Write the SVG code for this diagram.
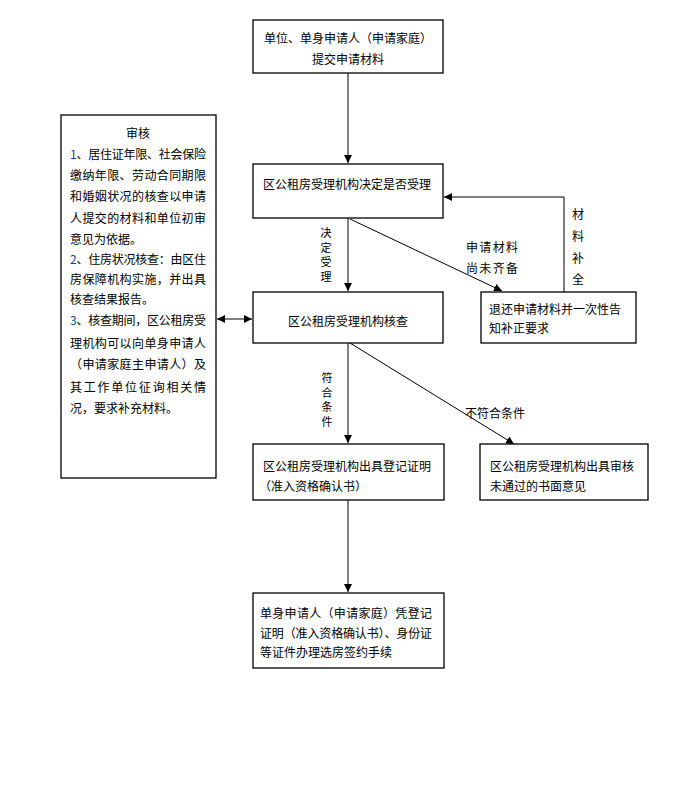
<svg xmlns="http://www.w3.org/2000/svg" width="696" height="812" viewBox="0 0 696 812">
<style>
  .box{fill:#fff;stroke:#000;stroke-width:1.3}
  text{font-family:"Noto Sans CJK SC","Liberation Sans",sans-serif;font-size:12px;fill:#000;dominant-baseline:central}
  text.vc{font-size:11px}
  .num{fill:#1f3c8c}
  .v{stroke:#808080;stroke-width:2;fill:none}
  .l{stroke:#000;stroke-width:1;fill:none}
</style>
<defs>
  <marker id="ah" viewBox="0 0 10 10" refX="10" refY="5" markerWidth="8" markerHeight="8" markerUnits="userSpaceOnUse" orient="auto-start-reverse">
    <path d="M0,0 L10,5 L0,10 z" fill="#000"/>
  </marker>
</defs>
<rect width="696" height="812" fill="#fff"/>
<g id="connectors">
  <line class="v" x1="348" y1="73" x2="348" y2="163" marker-end="url(#ah)"/>
  <line class="v" x1="348" y1="218" x2="348" y2="291" marker-end="url(#ah)"/>
  <line class="v" x1="348" y1="343" x2="348" y2="443" marker-end="url(#ah)"/>
  <line class="v" x1="348" y1="500" x2="348" y2="592" marker-end="url(#ah)"/>
  <line class="l" x1="350" y1="219" x2="502" y2="291" marker-end="url(#ah)"/>
  <line class="l" x1="350" y1="343" x2="514" y2="444" marker-end="url(#ah)"/>
  <polyline class="l" points="564,292 564,197 444,197" marker-end="url(#ah)"/>
  <line class="v" x1="217" y1="319" x2="252" y2="319" marker-start="url(#ah)" marker-end="url(#ah)"/>
  <text class="vc" x="326" y="232" text-anchor="middle">决</text>
  <text class="vc" x="326" y="246.5" text-anchor="middle">定</text>
  <text class="vc" x="326" y="261" text-anchor="middle">受</text>
  <text class="vc" x="326" y="275.5" text-anchor="middle">理</text>
  <text class="vc" x="327" y="377" text-anchor="middle">符</text>
  <text class="vc" x="327" y="391.5" text-anchor="middle">合</text>
  <text class="vc" x="327" y="406" text-anchor="middle">条</text>
  <text class="vc" x="327" y="420.5" text-anchor="middle">件</text>
  <text x="578" y="213" text-anchor="middle">材</text>
  <text x="578" y="235" text-anchor="middle">料</text>
  <text x="578" y="257" text-anchor="middle">补</text>
  <text x="578" y="278" text-anchor="middle">全</text>
  <text x="466" y="246" textLength="52" lengthAdjust="spacing">申请材料</text>
  <text x="466" y="267" textLength="52" lengthAdjust="spacing">尚未齐备</text>
  <text x="465" y="412">不符合条件</text>
</g>
<g id="n1">
  <rect class="box" x="253" y="20" width="190" height="53"/>
  <text x="348" y="37" text-anchor="middle">单位、单身申请人（申请家庭）</text>
  <text x="348" y="58" text-anchor="middle">提交申请材料</text>
</g>
<g id="n2">
  <rect class="box" x="253" y="164" width="190" height="54"/>
  <text x="263" y="183">区公租房受理机构决定是否受理</text>
</g>
<g id="n3">
  <rect class="box" x="253" y="292" width="190" height="51"/>
  <text x="348" y="320" text-anchor="middle">区公租房受理机构核查</text>
</g>
<g id="n4">
  <rect class="box" x="481" y="292" width="155" height="51"/>
  <text x="489" y="308">退还申请材料并一次性告</text>
  <text x="489" y="327">知补正要求</text>
</g>
<g id="n5">
  <rect class="box" x="253" y="444" width="191" height="56"/>
  <text x="263" y="465">区公租房受理机构出具登记证明</text>
  <text x="259" y="485">（准入资格确认书）</text>
</g>
<g id="n6">
  <rect class="box" x="480" y="444" width="168" height="56"/>
  <text x="490" y="465">区公租房受理机构出具审核</text>
  <text x="490" y="485">未通过的书面意见</text>
</g>
<g id="n7">
  <rect class="box" x="253" y="593" width="191" height="75"/>
  <text x="260" y="612" textLength="172" lengthAdjust="spacing">单身申请人（申请家庭）凭登记</text>
  <text x="260" y="632" textLength="172" lengthAdjust="spacing">证明（准入资格确认书）、身份证</text>
  <text x="260" y="651">等证件办理选房签约手续</text>
</g>
<g id="n8">
  <rect class="box" x="61" y="115" width="155" height="363"/>
  <text x="138" y="132" text-anchor="middle">审核</text>
  <text x="70" y="153" textLength="136" lengthAdjust="spacing"><tspan class="num">1</tspan>、居住证年限、社会保险</text>
  <text x="70" y="174" textLength="136" lengthAdjust="spacing">缴纳年限、劳动合同期限</text>
  <text x="70" y="195" textLength="136" lengthAdjust="spacing">和婚姻状况的核查以申请</text>
  <text x="70" y="217" textLength="136" lengthAdjust="spacing">人提交的材料和单位初审</text>
  <text x="70" y="238">意见为依据。</text>
  <text x="70" y="258" textLength="136" lengthAdjust="spacing"><tspan class="num">2</tspan>、住房状况核查：由区住</text>
  <text x="70" y="278" textLength="136" lengthAdjust="spacing">房保障机构实施，并出具</text>
  <text x="70" y="298">核查结果报告。</text>
  <text x="70" y="319" textLength="136" lengthAdjust="spacing"><tspan class="num">3</tspan>、核查期间，区公租房受</text>
  <text x="70" y="342" textLength="136" lengthAdjust="spacing">理机构可以向单身申请人</text>
  <text x="70" y="363" textLength="136" lengthAdjust="spacing">（申请家庭主申请人）及</text>
  <text x="70" y="386" textLength="136" lengthAdjust="spacing">其工作单位征询相关情</text>
  <text x="70" y="407">况，要求补充材料。</text>
</g>
</svg>
